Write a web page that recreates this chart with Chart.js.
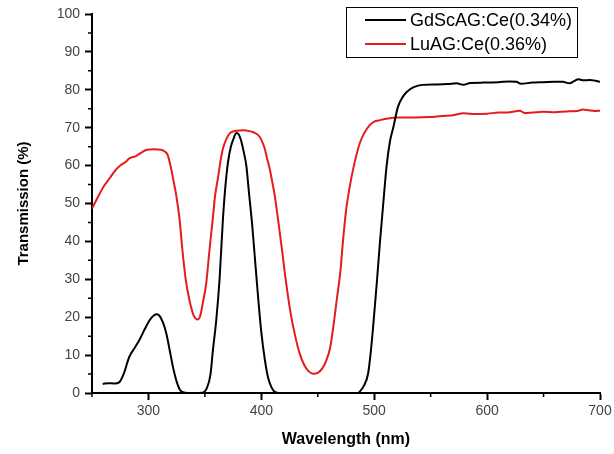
<!DOCTYPE html>
<html>
<head>
<meta charset="utf-8">
<script src="https://cdn.jsdelivr.net/npm/chart.js@4"></script>
<style>
html,body{margin:0;padding:0;background:#fff;}
#wrap{width:614px;height:454px;}
</style>
</head>
<body>
<div id="wrap"><canvas id="c" width="614" height="454"></canvas></div>
<script>
const seriesLabels = ['GdScAG:Ce(0.34%)', 'LuAG:Ce(0.36%)'];
const seriesColors = ['#000000', '#e41c1c'];

const gdWavelength = [259.5,265,270,274,278,283,288,292,297,301,305,307.5,310,313,316,319,322,325,328,332,340,348,352,355,357,360,363,366,368,370.5,373,375,378,380,382,384.5,386.7,389,392,395,397.5,400,403,406,409,412,416,430,450,470,485,487,491,494.5,497,499,502,505,508,511,514,517,521,525,529,535,543,555,565,573,579,585,597,610,620,626,630,640,650,660,667,673,677,681,685,691,696,700];
const gdTransmission = [2.4,2.6,2.5,2.8,5,9.5,12,14,17,19.2,20.5,20.8,20.3,18.5,15.5,11,6.5,3,0.8,0.1,0,0.1,1.5,5,11,19,30,46,54,61,65,66.8,68.6,68.2,66.7,63.5,60,53,44,33,24,16,9,4,1.5,0.3,0,0,0,0,0,0.3,2,5,11,17.4,28,39.5,50,60,66.5,70.2,75.5,78,79.5,80.7,81.3,81.4,81.5,81.7,81.3,81.8,81.9,82,82.2,82.1,81.6,81.9,82,82.1,82.1,81.7,82.3,82.8,82.5,82.6,82.4,82.1];

const luWavelength = [250,254,257,261,265.5,270,275,280,283,289,293,298,305,311,314,317,320,322.5,324.6,327.5,330,333,336.4,340,343.8,346,348,351.2,354,357,359,361.5,364,366,369,372,375,378,384,389.5,393,397,400,403,405,407.3,409.5,411.8,414.7,418,422,426,430,434,438,442,446,450,454,457.6,461,464,467,470,472.3,475,478.3,482,487.2,491,496,500,505,512,520,535,549,560,570,579,590,600,610,620,629,633,640,650,660,670,680,685,690,695,700];
const luTransmission = [48.7,51,52.7,54.8,56.6,58.5,60,61,61.9,62.5,63.3,64.1,64.3,64.2,63.8,62.8,59.3,55.5,52.2,46,38,30,24.4,20.5,19.4,20.5,23.5,29,37.5,46,52,56.6,61.5,64.5,67,68.5,69,69.2,69.3,69.1,68.8,68.1,66.8,64.5,62,59.3,56,52.2,46,38.5,29,21,15,10.4,7.4,5.7,5.1,5.3,6.5,8.6,12,18,25,32,40,48,54.4,60,65.9,68.5,70.7,71.6,72,72.4,72.7,72.7,72.8,73.1,73.3,73.8,73.6,73.7,74,74.1,74.5,73.9,74,74.2,74.1,74.3,74.4,74.8,74.6,74.4,74.5];

const xTickValues = [300, 400, 500, 600, 700];
const xMinorTickValues = [250, 350, 450, 550, 650];
const yTickValues = [0, 10, 20, 30, 40, 50, 60, 70, 80, 90, 100];
const yMinorTickValues = [5, 15, 25, 35, 45, 55, 65, 75, 85, 95];
const xTitle = 'Wavelength (nm)';
const yTitle = 'Transmission (%)';

const FONT = "'Liberation Sans', Arial, Helvetica, sans-serif";

function pairs(xs, ys) { return xs.map((v, i) => ({ x: v, y: ys[i] })); }

const minorTicks = {
  id: 'minorTicks',
  afterDraw(chart) {
    const { ctx, scales: { x, y } } = chart;
    ctx.save();
    ctx.strokeStyle = '#000';
    ctx.lineWidth = 1.5;
    ctx.beginPath();
    xMinorTickValues.forEach(v => { const p = x.getPixelForValue(v); ctx.moveTo(p, x.top); ctx.lineTo(p, x.top + 4); });
    yMinorTickValues.forEach(v => { const p = y.getPixelForValue(v); ctx.moveTo(y.right, p); ctx.lineTo(y.right - 4, p); });
    ctx.stroke();
    ctx.restore();
  }
};

const boxLegend = {
  id: 'boxLegend',
  afterDraw(chart) {
    const ctx = chart.ctx;
    const left = 346, top = 7, width = 231, height = 50;
    ctx.save();
    ctx.fillStyle = '#fff';
    ctx.fillRect(left, top, width, height);
    ctx.strokeStyle = '#000';
    ctx.lineWidth = 1;
    ctx.strokeRect(left + 0.5, top + 0.5, width, height);
    ctx.font = '18px ' + FONT;
    ctx.textBaseline = 'middle';
    ctx.textAlign = 'left';
    chart.data.datasets.forEach((ds, i) => {
      const cy = top + 13 + i * 24;
      ctx.strokeStyle = ds.borderColor;
      ctx.lineWidth = 2;
      ctx.beginPath();
      ctx.moveTo(left + 19, cy);
      ctx.lineTo(left + 60, cy);
      ctx.stroke();
      ctx.fillStyle = '#000';
      ctx.fillText(ds.label, left + 64, cy + 1);
    });
    ctx.restore();
  }
};

function zeroPad(s) { s.paddingLeft = 0; s.paddingRight = 0; s.paddingTop = 0; s.paddingBottom = 0; }

new Chart(document.getElementById('c'), {
  type: 'line',
  data: {
    datasets: [
      { label: seriesLabels[0], data: pairs(gdWavelength, gdTransmission), borderColor: seriesColors[0], backgroundColor: seriesColors[0], borderWidth: 2, pointRadius: 0, cubicInterpolationMode: 'monotone', fill: false },
      { label: seriesLabels[1], data: pairs(luWavelength, luTransmission), borderColor: seriesColors[1], backgroundColor: seriesColors[1], borderWidth: 2, pointRadius: 0, cubicInterpolationMode: 'monotone', fill: false }
    ]
  },
  options: {
    responsive: false,
    animation: false,
    devicePixelRatio: 1,
    layout: { padding: { top: 14, right: 14, left: 0, bottom: 0 } },
    plugins: { legend: { display: false }, tooltip: { enabled: false } },
    scales: {
      x: {
        type: 'linear', position: 'bottom', min: 250, max: 700,
        afterBuildTicks: s => { s.ticks = xTickValues.map(v => ({ value: v })); },
        afterFit: s => { s.height = 61; zeroPad(s); },
        grid: { display: true, drawOnChartArea: false, drawTicks: true, tickLength: 7, tickWidth: 2, tickColor: '#000' },
        border: { display: true, color: '#000', width: 2 },
        ticks: { autoSkip: false, maxRotation: 0, padding: 3, color: '#444', font: { family: FONT, size: 14 } },
        title: { display: true, text: xTitle, color: '#000', font: { family: FONT, size: 16, weight: 'bold' }, padding: { top: 0, bottom: 5 } }
      },
      y: {
        type: 'linear', position: 'left', min: 0, max: 100,
        afterBuildTicks: s => { s.ticks = yTickValues.map(v => ({ value: v })); },
        afterFit: s => { s.width = 92; zeroPad(s); },
        grid: { display: true, drawOnChartArea: false, drawTicks: true, tickLength: 7, tickWidth: 2, tickColor: '#000' },
        border: { display: true, color: '#000', width: 2 },
        ticks: { padding: 5, color: '#444', font: { family: FONT, size: 14 } },
        title: { display: true, text: yTitle, color: '#000', font: { family: FONT, size: 15, weight: 'bold' }, padding: { top: 15, bottom: 0 } }
      }
    }
  },
  plugins: [minorTicks, boxLegend]
});
</script>
</body>
</html>
